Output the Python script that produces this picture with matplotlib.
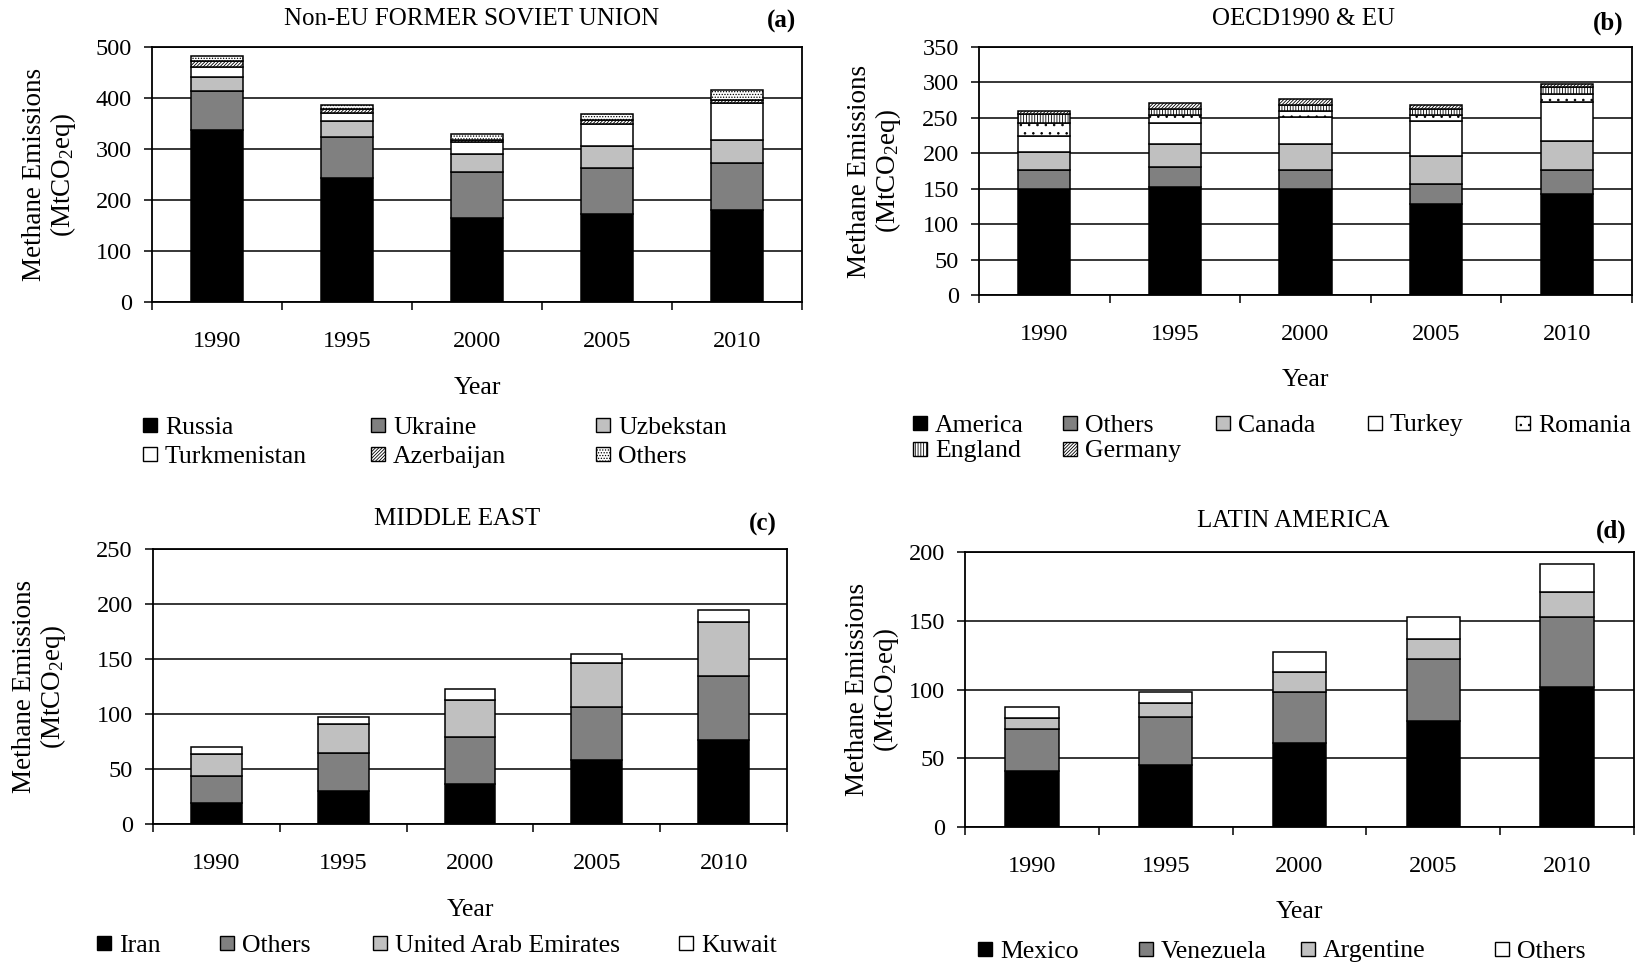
import numpy as np
import matplotlib
matplotlib.use("Agg")
import matplotlib.pyplot as plt
from matplotlib.patches import Rectangle
from matplotlib.transforms import blended_transform_factory

plt.rcParams['font.family'] = ['Liberation Serif', 'DejaVu Serif']
plt.rcParams['mathtext.fontset'] = 'custom'
plt.rcParams['mathtext.rm'] = 'Liberation Serif'
plt.rcParams['mathtext.it'] = 'Liberation Serif:italic'
plt.rcParams['hatch.linewidth'] = 0.6

# ---------------- data ----------------
years = ['1990', '1995', '2000', '2005', '2010']

# (a) Non-EU Former Soviet Union
a_labels = ['Russia', 'Ukraine', 'Uzbekstan', 'Turkmenistan', 'Azerbaijan', 'Others']
a_russia = [338, 244, 165, 173, 181]
a_ukraine = [76, 80, 89, 90, 92]
a_uzbekstan = [27, 31, 36, 42, 44]
a_turkmenistan = [20, 16, 23, 45, 73]
a_azerbaijan = [12, 8, 5, 7, 7]
a_others = [9, 8, 11, 11, 18]

# (b) OECD1990 & EU
b_labels = ['America', 'Others', 'Canada', 'Turkey', 'Romania', 'England', 'Germany']
b_america = [150, 153, 150, 128, 142]
b_others = [27, 27, 27, 29, 35]
b_canada = [25, 33, 36, 39, 41]
b_turkey = [22, 30, 38, 50, 55]
b_romania = [19, 11, 8, 8, 10]
b_england = [12, 9, 9, 8, 10]
b_germany = [5, 8, 9, 6, 5]

# (c) Middle East
c_labels = ['Iran', 'Others', 'United Arab Emirates', 'Kuwait']
c_iran = [19, 30, 36, 58, 76]
c_others = [25, 35, 43, 48, 59]
c_uae = [20, 26, 34, 40, 49]
c_kuwait = [6, 6, 10, 9, 11]

# (d) Latin America
d_labels = ['Mexico', 'Venezuela', 'Argentine', 'Others']
d_mexico = [41, 45, 61, 77, 102]
d_venezuela = [30, 35, 37, 45, 51]
d_argentine = [8, 10, 15, 15, 18]
d_others = [8, 8, 14, 16, 20]

# ---------------- styles ----------------
BLACK = dict(facecolor='black', hatch=None)
DARK = dict(facecolor='#808080', hatch=None)
LIGHT = dict(facecolor='#c0c0c0', hatch=None)
WHITE = dict(facecolor='white', hatch=None)
DIAG = dict(facecolor='white', hatch='//////////')
WAVE = dict(facecolor='white', hatch='......')
DOTS = dict(facecolor='white', hatch='..')
VERT = dict(facecolor='white', hatch='||||||')

W, H = 1639, 965
fig = plt.figure(figsize=(W / 100, H / 100), dpi=100)


def fx(x):
    return x / W


def fy(y):
    return 1 - y / H


def make_axes(l, r, t, b):
    return fig.add_axes([fx(l), fy(b), (r - l) / W, (b - t) / H])


def panel(ax, series, styles, ymax, ystep, title, title_x, title_y, tag, tag_x, tag_y,
          ylabel_x, year_y):
    x = np.arange(len(years))
    bottom = np.zeros(len(years))
    for vals, st in zip(series, styles):
        ax.bar(x, vals, width=0.4, bottom=bottom, color=st['facecolor'],
               edgecolor='black', linewidth=1.1, hatch=st['hatch'], zorder=3)
        bottom += np.array(vals)
    ax.set_xlim(-0.5, len(years) - 0.5)
    ax.set_ylim(0, ymax)
    ax.set_yticks(np.arange(0, ymax + 1, ystep))
    ax.yaxis.grid(True, color='black', linewidth=1.1)
    ax.set_axisbelow(True)
    ax.set_xticks(x, years)
    ax.set_xticks(np.arange(len(years) + 1) - 0.5, minor=True)
    ax.tick_params(axis='x', which='major', length=0, pad=21, labelsize=17.5)
    ax.tick_params(axis='x', which='minor', length=6, width=1.1, direction='out')
    ax.tick_params(axis='y', length=5.5, width=1.1, direction='out', pad=9, labelsize=17.5)
    for s in ax.spines.values():
        s.set_linewidth(1.3)
    ax.set_ylabel('Methane Emissions\n(MtCO$_2$eq)', fontsize=19.5, linespacing=1.05)
    ax.yaxis.set_label_coords(fx(ylabel_x), 0.5,
                              transform=blended_transform_factory(fig.transFigure, ax.transAxes))
    ax.set_xlabel('Year', fontsize=18.5)
    ax.xaxis.set_label_coords(0.5, fy(year_y),
                              transform=blended_transform_factory(ax.transAxes, fig.transFigure))
    fig.text(fx(title_x), fy(title_y), title, fontsize=18, ha='center', va='center')
    fig.text(fx(tag_x), fy(tag_y), tag, fontsize=18, fontweight='bold', ha='center', va='center')


def legend(labels, styles, xs, ys):
    for lab, st, x, y in zip(labels, styles, xs, ys):
        sz = 14
        fig.patches.append(Rectangle((fx(x), fy(y + sz / 2)), sz / W, sz / H,
                                     transform=fig.transFigure, facecolor=st['facecolor'],
                                     edgecolor='black', linewidth=1.0, hatch=st['hatch']))
        fig.text(fx(x + 22), fy(y), lab, fontsize=18.5, ha='left', va='center_baseline')


# (a)
axa = make_axes(152, 802, 47, 302)
panel(axa, [a_russia, a_ukraine, a_uzbekstan, a_turkmenistan, a_azerbaijan, a_others],
      [BLACK, DARK, LIGHT, WHITE, DIAG, WAVE], 500, 100,
      'Non-EU FORMER SOVIET UNION', 472, 19, '(a)', 781, 21, 78, 377)
legend(a_labels, [BLACK, DARK, LIGHT, WHITE, DIAG, WAVE],
       [143, 371, 596, 143, 371, 596], [425, 425, 425, 454, 454, 454])

# (b)
axb = make_axes(979, 1632, 47, 295)
panel(axb, [b_america, b_others, b_canada, b_turkey, b_romania, b_england, b_germany],
      [BLACK, DARK, LIGHT, WHITE, DOTS, VERT, DIAG], 350, 50,
      'OECD1990 & EU', 1303, 19, '(b)', 1608, 23, 903, 369)
legend(b_labels, [BLACK, DARK, LIGHT, WHITE, DOTS, VERT, DIAG],
       [913, 1063, 1216, 1368, 1516, 913, 1063], [423, 423, 423, 423, 423, 449, 449])

# (c)
axc = make_axes(153, 787, 549, 824)
panel(axc, [c_iran, c_others, c_uae, c_kuwait], [BLACK, DARK, LIGHT, WHITE], 250, 50,
      'MIDDLE EAST', 457, 519, '(c)', 763, 524, 68, 899)
legend(c_labels, [BLACK, DARK, LIGHT, WHITE], [97, 220, 373, 679], [943] * 4)

# (d)
axd = make_axes(965, 1634, 552, 827)
panel(axd, [d_mexico, d_venezuela, d_argentine, d_others], [BLACK, DARK, LIGHT, WHITE], 200, 50,
      'LATIN AMERICA', 1293, 521, '(d)', 1611, 531, 901, 901)
legend(d_labels, [BLACK, DARK, LIGHT, WHITE], [978, 1139, 1301, 1495], [949] * 4)

fig.savefig('out.png', dpi=100)
